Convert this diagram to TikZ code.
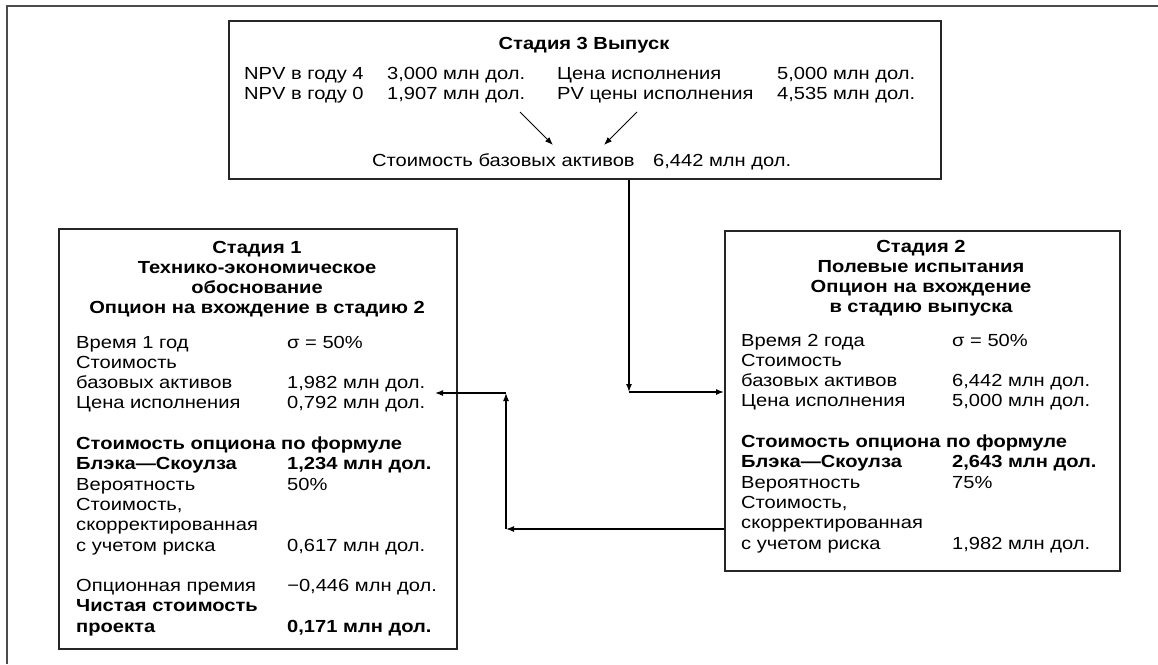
\documentclass[tikz,border=0pt]{standalone}
\usepackage{fontspec}
\setmainfont{Liberation Sans}[FakeStretch=1.15]
\usetikzlibrary{arrows.meta}
\tikzset{
  box/.style={draw=black!85, line width=1.6pt, inner sep=0pt, anchor=north west},
  txt/.style={inner sep=0pt, anchor=base west, font=\fontsize{17.5}{20.3}\selectfont},
  hd/.style={inner sep=0pt, anchor=base, font=\fontsize{17.5}{20.3}\selectfont\bfseries},
  arr/.style={draw=black, line width=1.3pt, -{Latex[length=8pt,width=6pt]}},
  frame/.style={draw=black!70, line width=2pt}
}
\begin{document}
\begin{tikzpicture}[x=1pt,y=-1pt]
\useasboundingbox (0,0) rectangle (1158,664);
% outer frame (cropped)
\coordinate (f0) at (7,664);
\coordinate (f1) at (7,6);
\coordinate (f2) at (1158,6);
\draw[frame] (f0) -- (f1) -- (f2);

% boxes
\node[box, minimum width=712pt, minimum height=158pt] (s3) at (228,20) {};
\node[box, minimum width=398pt, minimum height=420pt] (s1) at (58,228) {};
\node[box, minimum width=395pt, minimum height=340pt] (s2) at (724,230) {};

% Stage 3
\node[hd] (t3) at (584,49) {Стадия 3 Выпуск};
\node[txt] (d3) at (244,79) {\begin{tabular}[t]{@{}p{143pt}@{}p{170pt}@{}p{220pt}@{}l@{}}
NPV в году 4 & 3,000 млн дол. & Цена исполнения & 5,000 млн дол.\\
NPV в году 0 & 1,907 млн дол. & PV цены исполнения & 4,535 млн дол.
\end{tabular}};
\node[txt] (c3) at (372,166) {\makebox[281pt][l]{Стоимость базовых активов}6,442 млн дол.};
\coordinate (a1s) at (520,112);
\coordinate (a1e) at (553,145);
\coordinate (a2s) at (637,112);
\coordinate (a2e) at (604,145);
\draw[arr, line width=1pt] (a1s) -- (a1e);
\draw[arr, line width=1pt] (a2s) -- (a2e);

% Stage 1
\node[hd] (t1) at (257,253) {\begin{tabular}[t]{@{}c@{}}
Стадия 1\\
Технико-экономическое\\
обоснование\\
Опцион на вхождение в стадию 2
\end{tabular}};
\node[txt] (d1) at (76,348) {\begin{tabular}[t]{@{}p{211pt}@{}l@{}}
Время 1 год & σ = 50\%\\
Стоимость & \\
базовых активов & 1,982 млн дол.\\
Цена исполнения & 0,792 млн дол.\\
 & \\
\multicolumn{2}{@{}l@{}}{\bfseries Стоимость опциона по формуле}\\
\bfseries Блэка—Скоулза & \bfseries 1,234 млн дол.\\
Вероятность & 50\%\\
Стоимость, & \\
скорректированная & \\
с учетом риска & 0,617 млн дол.\\
 & \\
Опционная премия & −0,446 млн дол.\\
\bfseries Чистая стоимость & \\
\bfseries проекта & \bfseries 0,171 млн дол.
\end{tabular}};

% Stage 2
\node[hd] (t2) at (921,252) {\begin{tabular}[t]{@{}c@{}}
Стадия 2\\
Полевые испытания\\
Опцион на вхождение\\
в стадию выпуска
\end{tabular}};
\node[txt] (d2) at (741,346) {\begin{tabular}[t]{@{}p{211pt}@{}l@{}}
Время 2 года & σ = 50\%\\
Стоимость & \\
базовых активов & 6,442 млн дол.\\
Цена исполнения & 5,000 млн дол.\\
 & \\
\multicolumn{2}{@{}l@{}}{\bfseries Стоимость опциона по формуле}\\
\bfseries Блэка—Скоулза & \bfseries 2,643 млн дол.\\
Вероятность & 75\%\\
Стоимость, & \\
скорректированная & \\
с учетом риска & 1,982 млн дол.
\end{tabular}};

% connectors
\coordinate (v1) at (629,392);
\draw[arr] (v1 |- s3.south) -- (v1);
\draw[arr] (v1) -- (v1 -| s2.west);
\coordinate (b1) at (506,529);
\coordinate (b2) at (506,393);
\coordinate (tp) at (435,393);
\draw[arr] (b1 -| s2.west) -- (b1);
\draw[arr] (b1) -- (b2);
\draw[arr] (b2) -- (tp);
\end{tikzpicture}
\end{document}
